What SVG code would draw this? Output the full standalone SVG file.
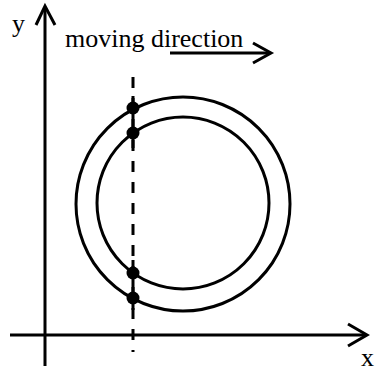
<svg xmlns="http://www.w3.org/2000/svg" width="378" height="371" viewBox="0 0 378 371">
<style>
.ln{fill:none;stroke:#000;stroke-width:3;stroke-linecap:butt}
.ah{fill:none;stroke:#000;stroke-width:3;stroke-linejoin:miter}
.dot{fill:#000}
.lbl{font-family:"Liberation Serif","Times New Roman",serif;font-size:26px;fill:#000}
</style>
<rect width="378" height="371" fill="#fff"/>
<g id="axes">
<line class="ln" x1="45" y1="7" x2="45" y2="366"/>
<polyline class="ah" points="36,25 45,6 55,25"/>
<line class="ln" x1="10" y1="335" x2="366" y2="335"/>
<polyline class="ah" points="348,324 367,335 348,346"/>
</g>
<g id="ring">
<circle class="ln" cx="183" cy="204" r="107"/>
<circle class="ln" cx="183" cy="203" r="86"/>
</g>
<g id="connectors">
<line class="ln" x1="133" y1="77" x2="133" y2="352" stroke-dasharray="11 10"/>
<line class="ln" x1="133" y1="96" x2="133" y2="148"/>
<line class="ln" x1="133" y1="260" x2="133" y2="310"/>
<line class="ln" x1="170" y1="53" x2="270" y2="53"/>
<polyline class="ah" points="253,43 271,53 253,63"/>
</g>
<g id="points">
<circle class="dot" cx="133" cy="108" r="6.5"/>
<circle class="dot" cx="133" cy="133" r="6.5"/>
<circle class="dot" cx="133" cy="273" r="6.5"/>
<circle class="dot" cx="133" cy="298" r="6.5"/>
</g>
<g id="labels">
<text class="lbl" x="12" y="32">y</text>
<text class="lbl" x="65" y="47">moving direction</text>
<text class="lbl" x="361" y="366">x</text>
</g>
</svg>
